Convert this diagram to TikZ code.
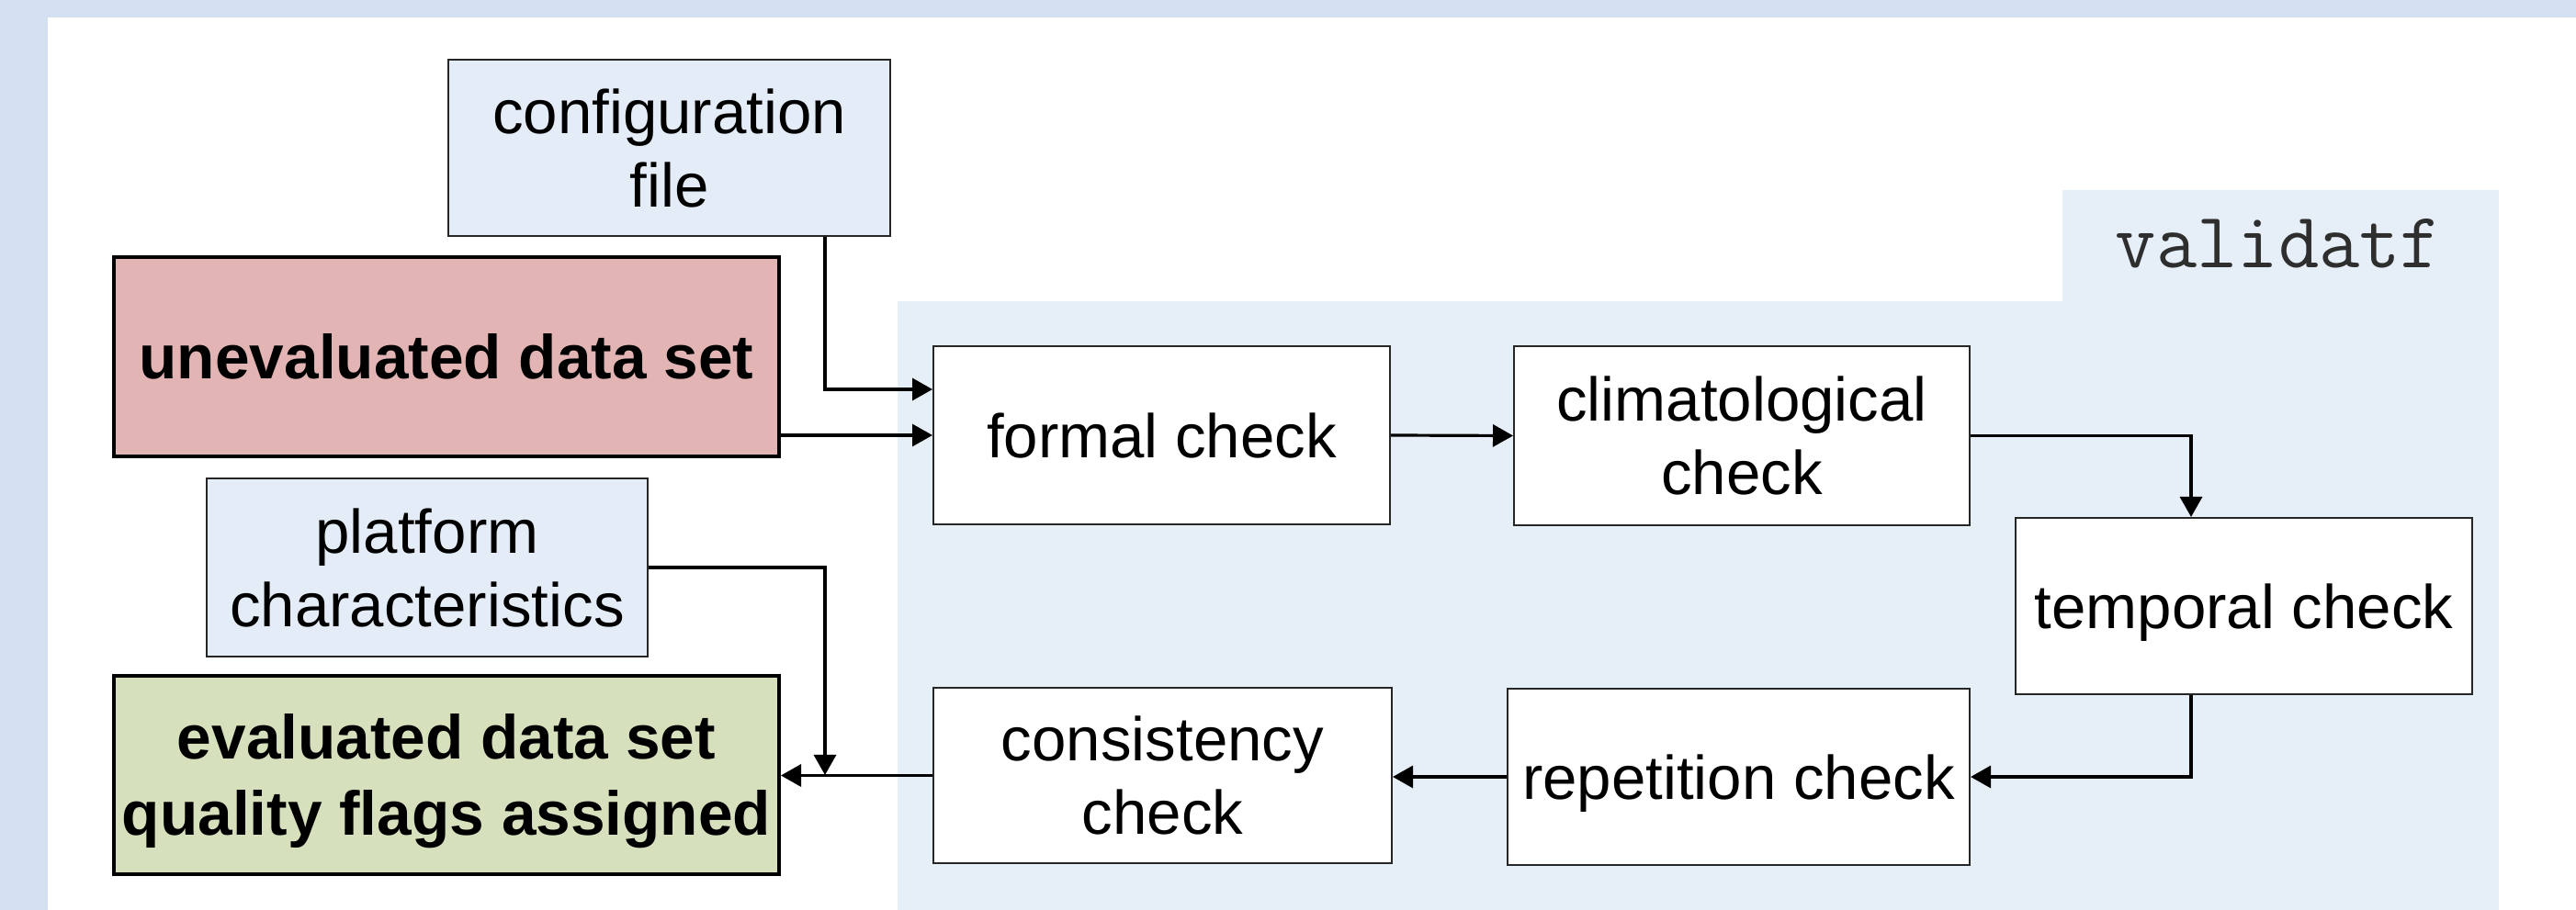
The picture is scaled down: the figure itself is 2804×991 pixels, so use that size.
\documentclass[tikz,border=0pt]{standalone}
\usepackage{fontspec}
\setmainfont{Liberation Sans}
\usetikzlibrary{arrows.meta}
\definecolor{outerbg}{HTML}{D2E0F2}
\definecolor{panelbg}{HTML}{E6EEF8}
\definecolor{inputbg}{HTML}{E4ECF7}
\definecolor{redbg}{HTML}{E3B4B4}
\definecolor{greenbg}{HTML}{D7E0BD}
\definecolor{labelgray}{HTML}{2E2E2E}
\begin{document}
\begin{tikzpicture}[x=0.25pt,y=-0.25pt,
  box/.style={draw=black!85, line width=0.5pt, fill=white, inner sep=0pt, align=center,
    font=\fontsize{16.8}{20}\selectfont, text depth=0pt},
  inbox/.style={box, fill=inputbg},
  databox/.style={box, draw=black, line width=1pt, font=\fontsize{16.9}{20.75}\selectfont\bfseries},
  arr/.style={draw=black, line width=0.8pt, -{Triangle[length=5.5pt,width=6pt]}}]
\useasboundingbox (0,0) rectangle (2804,991);
\fill[outerbg] (0,0) rectangle (2804,991);
\fill[white] (52,19) rectangle (2804,991);
\fill[panelbg] (977,328) rectangle (2720,991);
\fill[panelbg] (2245,207) rectangle (2720,329);
\node[anchor=base, inner sep=0pt, text=labelgray, font=\ttfamily\fontsize{21.5}{24}\selectfont] (vlabel) at (2480,292) {validatf};

\node[inbox, minimum width=120.25pt, minimum height=48pt] (config) at (728.5,161) {configuration\\file};
\node[databox, fill=redbg, minimum width=181pt, minimum height=54.25pt] (uneval) at (486,388.5) {unevaluated data set};
\node[inbox, minimum width=120.1pt, minimum height=48.5pt] (platform) at (465,618) {platform\\characteristics};
\node[databox, fill=greenbg, minimum width=181pt, minimum height=54pt] (evald) at (486,844) {evaluated data set\\quality flags assigned};

\node[box, minimum width=124.25pt, minimum height=48.5pt] (formal) at (1264.5,474) {formal check};
\node[box, minimum width=124pt, minimum height=48.75pt] (clim) at (1896,474.5) {climatological\\check};
\node[box, minimum width=124.25pt, minimum height=48pt] (temporal) at (2442.5,660) {temporal check};
\node[box, minimum width=125.75pt, minimum height=48pt] (repetition) at (1892.5,846) {repetition check};
\node[box, minimum width=124.75pt, minimum height=47.75pt] (consistency) at (1265.5,844.5) {consistency\\check};

\coordinate (cfgturn) at (898,424);
\coordinate (platturn) at (898,617);
\coordinate (tempturn) at (2385,474);

\draw[arr] (config.south -| cfgturn) |- (formal.west |- cfgturn);
\draw[arr] (uneval.east |- formal.west) -- (formal.west);
\draw[arr] (formal.east) -- (clim.west);
\draw[arr] (clim.east) -| (temporal.north -| tempturn);
\draw[arr] (temporal.south -| tempturn) |- (repetition.east);
\draw[arr] (repetition.west) -- (repetition.west -| consistency.east);
\draw[arr] (consistency.west) -- (consistency.west -| evald.east);
\draw[arr] (platform.east) -| (platturn |- evald.east);
\end{tikzpicture}
\end{document}
